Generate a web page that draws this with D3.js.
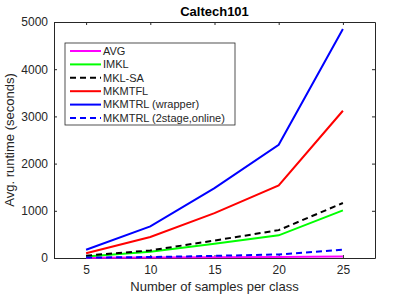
<!DOCTYPE html>
<html>
<head>
<meta charset="utf-8">
<script src="https://cdn.jsdelivr.net/npm/d3@7"></script>
<style>
  body { margin: 0; background: #fff; }
  svg { font-family: "Liberation Sans", Arial, sans-serif; }
</style>
</head>
<body>
<svg id="chart" width="415" height="295"></svg>
<script>
// samples per class
var samples = [5, 10, 15, 20, 25];

// runtime (seconds) per method
var avg       = [5, 10, 15, 20, 30];
var imkl      = [30, 130, 300, 480, 1010];
var mklSa     = [50, 160, 370, 590, 1165];
var mkmtfl    = [100, 445, 950, 1540, 3120];
var wrapper   = [175, 670, 1480, 2400, 4850];
var twoStage  = [10, 20, 45, 75, 175];

var xTicks = [5, 10, 15, 20, 25];
var yTicks = [0, 1000, 2000, 3000, 4000, 5000];

var series = [
  { name: "AVG", color: "#ff00ff", dash: null, values: avg },
  { name: "IMKL", color: "#00ff00", dash: null, values: imkl },
  { name: "MKL-SA", color: "#000000", dash: "6 4", values: mklSa },
  { name: "MKMTFL", color: "#ff0000", dash: null, values: mkmtfl },
  { name: "MKMTRL (wrapper)", color: "#0000ff", dash: null, values: wrapper },
  { name: "MKMTRL (2stage,online)", color: "#0000ff", dash: "6 4", values: twoStage }
];

var svg = d3.select("#chart");
var margin = {top: 22, right: 40, bottom: 37, left: 54};
var width = 415 - margin.left - margin.right;
var height = 295 - margin.top - margin.bottom;
var axisColor = "#262626";

var g = svg.append("g").attr("transform", "translate(" + margin.left + "," + margin.top + ")");

var x = d3.scaleLinear().domain([2.5, 27.5]).range([0, width]);
var y = d3.scaleLinear().domain([0, 5000]).range([height, 0]);

// axes (MATLAB style, ticks inward, box)
var tickLen = 3;
var xb = g.append("g").attr("transform", "translate(0," + height + ")")
  .call(d3.axisBottom(x).tickValues(xTicks).tickSizeInner(-tickLen).tickSizeOuter(0).tickPadding(7).tickFormat(d3.format("d")));
var xt = g.append("g")
  .call(d3.axisTop(x).tickValues(xTicks).tickSizeInner(-tickLen).tickSizeOuter(0).tickFormat(""));
var yl = g.append("g")
  .call(d3.axisLeft(y).tickValues(yTicks).tickSizeInner(-tickLen).tickSizeOuter(0).tickPadding(6).tickFormat(d3.format("d")));
var yr = g.append("g").attr("transform", "translate(" + width + ",0)")
  .call(d3.axisRight(y).tickValues(yTicks).tickSizeInner(-tickLen).tickSizeOuter(0).tickFormat(""));

[xb, xt, yl, yr].forEach(function(a){
  a.selectAll("path").attr("stroke", axisColor).attr("stroke-width", 1);
  a.selectAll("line").attr("stroke", axisColor);
  a.selectAll("text").attr("fill", axisColor).style("font-size", "12px");
});

var line = d3.line()
  .x(function(d, i){ return x(samples[i]); })
  .y(function(d){ return y(d); });

g.selectAll(".series")
  .data(series)
  .enter().append("path")
  .attr("class", "series")
  .attr("fill", "none")
  .attr("stroke", function(d){ return d.color; })
  .attr("stroke-width", 2)
  .attr("stroke-dasharray", function(d){ return d.dash; })
  .attr("d", function(d){ return line(d.values); });

// legend
var lg = g.append("g").attr("transform", "translate(11,21)");
lg.append("rect")
  .attr("width", 170).attr("height", 82)
  .attr("fill", "#fff").attr("stroke", axisColor).attr("stroke-width", 0.8);
var item = lg.selectAll(".item")
  .data(series)
  .enter().append("g")
  .attr("transform", function(d, i){ return "translate(0," + (8 + i * 13.4) + ")"; });
item.append("line")
  .attr("x1", 5).attr("x2", 36)
  .attr("stroke", function(d){ return d.color; })
  .attr("stroke-width", 2)
  .attr("stroke-dasharray", function(d){ return d.dash; });
item.append("text")
  .attr("x", 38).attr("dy", "0.35em")
  .attr("fill", axisColor)
  .style("font-size", "11px")
  .text(function(d){ return d.name; });

// labels
svg.append("text")
  .attr("x", margin.left + width / 2).attr("y", 16)
  .attr("text-anchor", "middle")
  .style("font-size", "13px").style("font-weight", "bold")
  .attr("fill", "#000")
  .text("Caltech101");

svg.append("text")
  .attr("x", margin.left + width / 2).attr("y", 291)
  .attr("text-anchor", "middle")
  .style("font-size", "13px")
  .attr("fill", axisColor)
  .text("Number of samples per class");

svg.append("text")
  .attr("transform", "translate(14," + (margin.top + height / 2) + ") rotate(-90)")
  .attr("text-anchor", "middle")
  .style("font-size", "13px")
  .attr("fill", axisColor)
  .text("Avg. runtime (seconds)");
</script>
</body>
</html>
